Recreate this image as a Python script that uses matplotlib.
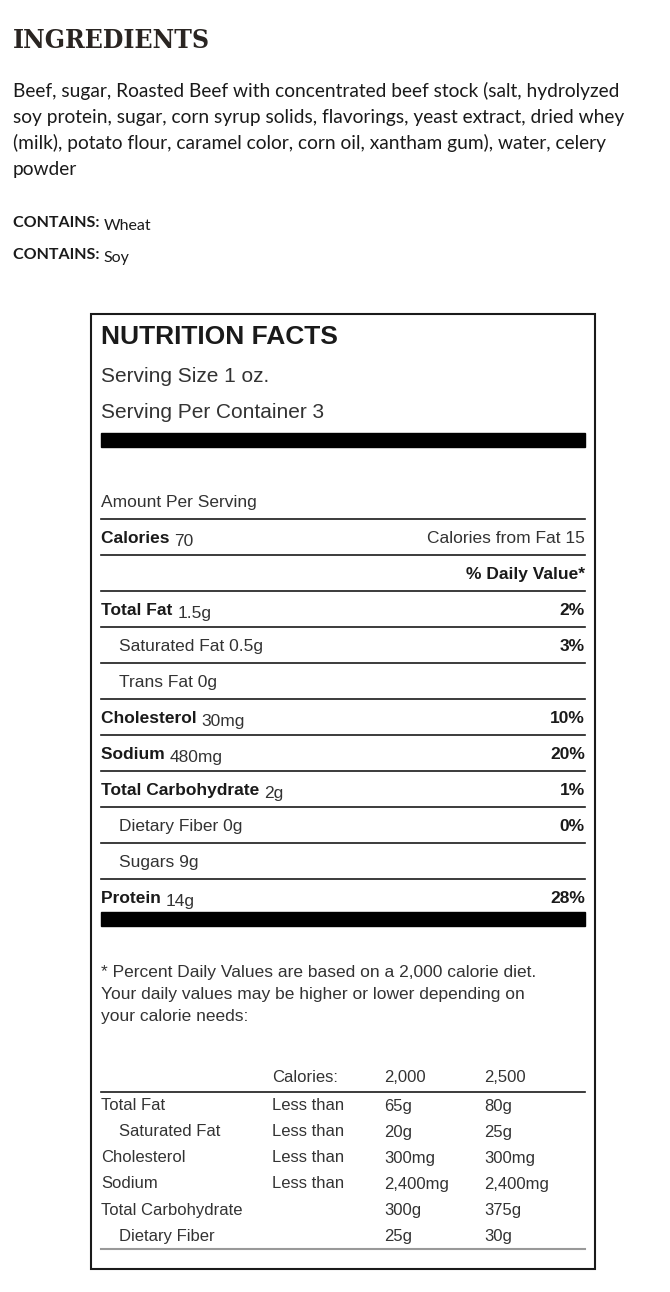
import matplotlib.pyplot as plt

# label data
ingredients_lines = [
    "Beef, sugar, Roasted Beef with concentrated beef stock (salt, hydrolyzed",
    "soy protein, sugar, corn syrup solids, flavorings, yeast extract, dried whey",
    "(milk), potato flour, caramel color, corn oil, xantham gum), water, celery",
    "powder",
]
contains = ["Wheat", "Soy"]

serving_size = "1 oz."
servings = "3"
calories = "70"
calories_fat = "15"

nutrients = ["Total Fat", "Saturated Fat", "Trans Fat", "Cholesterol", "Sodium",
             "Total Carbohydrate", "Dietary Fiber", "Sugars", "Protein"]
amounts = ["1.5g", "0.5g", "0g", "30mg", "480mg", "2g", "0g", "9g", "14g"]
percents = ["2%", "3%", "", "10%", "20%", "1%", "0%", "", "28%"]
sub_rows = [False, True, True, False, False, False, True, True, False]

footnote = ["* Percent Daily Values are based on a 2,000 calorie diet.",
            "Your daily values may be higher or lower depending on",
            "your calorie needs:"]
ref_header = ["Calories:", "2,000", "2,500"]
ref_names = ["Total Fat", "Saturated Fat", "Cholesterol", "Sodium",
             "Total Carbohydrate", "Dietary Fiber"]
ref_limit = ["Less than", "Less than", "Less than", "Less than", "", ""]
ref_2000 = ["65g", "20g", "300mg", "2,400mg", "300g", "25g"]
ref_2500 = ["80g", "25g", "300mg", "2,400mg", "375g", "30g"]
ref_sub = [False, True, False, False, False, True]

fig = plt.figure(figsize=(6.7, 12.92), dpi=100)
ax = fig.add_axes([0, 0, 1, 1])
ax.set_xlim(0, 670)
ax.set_ylim(1292, 0)
ax.axis("off")

ink = "#1a1a1a"
body = "Liberation Sans"
fut = "Lato"

ax.text(13, 40, "INGREDIENTS", fontsize=19, fontweight="bold", family="DejaVu Serif",
        color="#2a2522", va="center", fontstretch="condensed")
for i, line in enumerate(ingredients_lines):
    ax.text(13, 91 + i * 26, line, fontsize=13.8, family=fut, color=ink, va="center")
for i, c in enumerate(contains):
    t = ax.text(13, 227 + i * 32, "CONTAINS: ", fontsize=11.5, family=fut, fontweight="bold",
                color=ink, va="baseline")
    ax.annotate(c, xycoords=t, xy=(1, 0), va="baseline", fontsize=11.5, family=fut, color=ink)

# box
ax.add_patch(plt.Rectangle((91, 314), 504, 955, fill=False, lw=1.5, ec=ink))
L, R = 101, 585
ax.text(L, 337, "NUTRITION FACTS", fontsize=19, fontweight="bold", family=body, color=ink, va="center")
ax.text(L, 377, f"Serving Size {serving_size}", fontsize=15, family=body, color="#333", va="center")
ax.text(L, 413, f"Serving Per Container {servings}", fontsize=15, family=body, color="#333", va="center")
ax.add_patch(plt.Rectangle((L, 433), R - L, 14, color="black"))

ax.text(L, 502, "Amount Per Serving", fontsize=12.5, family=body, color="#333", va="center")
ax.plot([L, R], [519, 519], color=ink, lw=1.2)


def label(x, y, bold, normal, ha="left"):
    if ha == "left":
        t = ax.text(x, y + 5, bold + " ", fontsize=12.5, fontweight="bold", family=body, color=ink,
                    va="baseline")
        ax.annotate(normal, xycoords=t, xy=(1, 0), va="baseline", fontsize=12.5, family=body, color="#333")
    else:
        ax.text(x, y + 5, bold, fontsize=12.5, fontweight="bold", family=body, color=ink,
                va="baseline", ha="right")


label(L, 538, "Calories", calories)
ax.text(R, 543, f"Calories from Fat {calories_fat}", fontsize=12.5, family=body, color="#333",
        va="baseline", ha="right")
ax.plot([L, R], [555, 555], color=ink, lw=1.2)
label(R, 574, "% Daily Value*", "", ha="right")
ax.plot([L, R], [591, 591], color=ink, lw=1.2)

for i, (n, a, p, s) in enumerate(zip(nutrients, amounts, percents, sub_rows)):
    y = 610 + i * 36
    if s:
        ax.text(L + 18, y + 5, f"{n} {a}", fontsize=12.5, family=body, color="#333", va="baseline")
    else:
        label(L, y, n, a)
    if p:
        label(R, y, p, "", ha="right")
    if i < len(nutrients) - 1:
        ax.plot([L, R], [y + 17, y + 17], color=ink, lw=1.2)
ax.add_patch(plt.Rectangle((L, 912), R - L, 14, color="black"))

for i, line in enumerate(footnote):
    ax.text(L, 973 + i * 22, line, fontsize=12.5, family=body, color="#333", va="center")

cols = [272, 384, 484]
for x, h in zip(cols, ref_header):
    ax.text(x, 1078, h, fontsize=12, family=body, color="#333", va="center")
ax.plot([L, R], [1092, 1092], color=ink, lw=1.2)
for i in range(len(ref_names)):
    y = 1106 + i * 26
    ax.text(L + (18 if ref_sub[i] else 0), y, ref_names[i], fontsize=12, family=body, color="#333", va="center")
    for x, v in zip(cols, [ref_limit[i], ref_2000[i], ref_2500[i]]):
        ax.text(x, y, v, fontsize=12, family=body, color="#333", va="center")
ax.plot([L, R], [1249, 1249], color="#999", lw=1.5)

fig.savefig("out.png", dpi=100, facecolor="white")
